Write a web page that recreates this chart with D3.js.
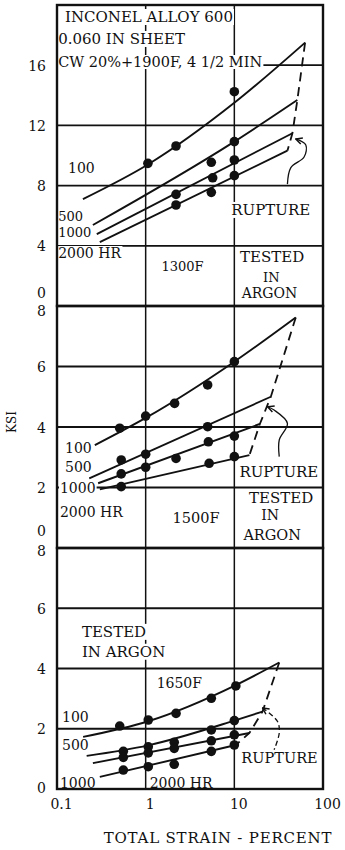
<!DOCTYPE html>
<html lang="en">
<head>
<meta charset="UTF-8" />
<title>INCONEL ALLOY 600</title>
<style>
body{margin:0;background:#fff;}
svg text{font-family:"DejaVu Serif",serif;fill:#111;}
</style>
</head>
<body>
<svg id="chart" width="345" height="850"></svg>
<script src="https://cdn.jsdelivr.net/npm/d3@7/dist/d3.min.js"></script>
<script>
// x = total strain (%), y = stress (ksi); one set of curves per hour level
const hours = ['100', '500', '1000', '2000'];
const xTicks = [0.1, 1, 10, 100];
const xGrid = [1, 10];

// 1300F
const ticks1300 = [0, 4, 8, 12, 16];
const lines1300 = [
  [[0.196, 7.1], [1.06, 9.4], [10, 13.5], [62.8, 17.5]],
  [[0.254, 5.38], [10, 10.92], [51.4, 13.69]],
  [[0.281, 4.78], [45.2, 11.48]],
  [[0.304, 4.25], [39.7, 10.32]]
];
const points1300 = [
  [[1.06, 9.48], [2.2, 10.63], [10, 14.24]],
  [[5.5, 9.55], [10, 10.92]],
  [[2.2, 7.42], [5.7, 8.52], [10, 9.7]],
  [[2.2, 6.71], [5.5, 7.55], [10, 8.66]]
];
const rupture1300 = [[62.8, 17.5], [51.4, 13.69], [45.2, 11.48], [39.7, 10.32]];
const arrow1300 = [[49.3, 11.1], [64, 10.7], [61.2, 9.9], [43.4, 9.2], [39.7, 8.1]];
const text1300 = [
  ['INCONEL ALLOY 600', 0.123, 18.87, 'start', 15],
  ['0.060 IN SHEET', 0.103, 17.41, 'start', 15],
  ['CW 20%+1900F, 4 1/2 MIN', 0.103, 15.88, 'start', 14.5],
  ['100', 0.133, 8.84, 'start', 14],
  ['500', 0.103, 5.65, 'start', 13],
  ['1000', 0.103, 4.6, 'start', 13],
  ['2000 HR', 0.103, 3.19, 'start', 14],
  ['RUPTURE', 9.25, 6.05, 'start', 15],
  ['1300F', 1.51, 2.33, 'start', 13],
  ['TESTED', 26.7, 2.92, 'middle', 15],
  ['IN', 26.1, 1.6, 'middle', 13],
  ['ARGON', 24.9, 0.55, 'middle', 14]
];

// 1500F
const ticks1500 = [0, 2, 4, 6, 8];
const lines1500 = [
  [[0.267, 3.4], [1, 4.3], [10, 6.16], [49.3, 7.62]],
  [[0.231, 2.3], [25.8, 5.0]],
  [[0.291, 2.14], [19.4, 4.1]],
  [[0.304, 1.94], [14.8, 3.07]]
];
const points1500 = [
  [[0.51, 3.96], [1, 4.36], [2.12, 4.78], [5, 5.39], [10, 6.16]],
  [[0.53, 2.91], [1, 3.1], [5, 4.01]],
  [[0.53, 2.45], [1, 2.67], [2.2, 2.96], [5.1, 3.51], [10, 3.7]],
  [[0.53, 2.03], [5.2, 2.8], [10, 3.02]]
];
const rupture1500 = [[49.3, 7.62], [25.8, 5.0], [19.4, 4.1], [14.8, 3.07]];
const arrow1500 = [[23.7, 4.67], [28.1, 4.56], [39.7, 4.12], [32.1, 3.57], [32.1, 3.02]];
const text1500 = [
  ['100', 0.123, 3.14, 'start', 14],
  ['500', 0.123, 2.51, 'start', 14],
  ['1000', 0.108, 1.82, 'start', 14],
  ['2000 HR', 0.108, 1.02, 'start', 14],
  ['1500F', 2.01, 0.83, 'start', 14.5],
  ['RUPTURE', 11.4, 2.35, 'start', 15],
  ['TESTED', 33.7, 1.49, 'middle', 15],
  ['IN', 25.4, 0.93, 'middle', 14],
  ['ARGON', 26.7, 0.26, 'middle', 14.5]
];

// 1650F
const ticks1650 = [0, 2, 4, 6, 8];
const lines1650 = [
  [[0.197, 1.73], [1.07, 2.25], [10.4, 3.45], [32.1, 4.2]],
  [[0.216, 1.1], [1.07, 1.45], [10, 2.27], [20.8, 2.57]],
  [[0.254, 0.86], [14.8, 1.86]],
  [[0.304, 0.4], [10.4, 1.46]]
];
const points1650 = [
  [[0.51, 2.09], [1.07, 2.29], [2.2, 2.51], [5.5, 3.01], [10.4, 3.42]],
  [[0.56, 1.25], [1.07, 1.4], [2.1, 1.55], [5.5, 1.96], [10, 2.27]],
  [[0.56, 1.05], [1.07, 1.2], [2.1, 1.35], [5.5, 1.6], [10, 1.8]],
  [[0.56, 0.63], [1.07, 0.74], [2.1, 0.82], [5.5, 1.25], [10, 1.46]]
];
const rupture1650 = [[32.1, 4.2], [20.8, 2.57], [14.8, 1.86], [10.4, 1.46]];
const arrow1650 = [[20.8, 2.69], [30.7, 2.24], [32.1, 1.86], [28.1, 1.3]];
const text1650 = [
  ['TESTED', 0.191, 5.05, 'start', 15],
  ['IN ARGON', 0.191, 4.39, 'start', 15],
  ['1650F', 1.33, 3.36, 'start', 14],
  ['100', 0.114, 2.23, 'start', 14],
  ['500', 0.114, 1.3, 'start', 14],
  ['1000', 0.108, 0.03, 'start', 14],
  ['2000 HR', 1.11, 0.03, 'start', 14],
  ['RUPTURE', 12, 0.86, 'start', 14.5]
];

const left = 57, right = 323;
const panels = [
  {top: 5, bottom: 306, max: 20, ticks: ticks1300, lines: lines1300, points: points1300, rupture: rupture1300, arrow: arrow1300, texts: text1300, nudge: {0: -14}},
  {top: 306, bottom: 548, max: 8, ticks: ticks1500, lines: lines1500, points: points1500, rupture: rupture1500, arrow: arrow1500, texts: text1500, nudge: {0: -18, 8: 4}},
  {top: 548, bottom: 789, max: 8, ticks: ticks1650, lines: lines1650, points: points1650, rupture: rupture1650, arrow: arrow1650, texts: text1650, nudge: {0: -2, 8: 2}, dashArrow: true}
];

const svg = d3.select('#chart');
const x = d3.scaleLog().domain([0.1, 100]).range([left, right]);
const ink = '#111';

svg.append('defs').append('marker')
  .attr('id', 'head').attr('viewBox', '0 0 10 10')
  .attr('refX', 9).attr('refY', 5)
  .attr('markerWidth', 8).attr('markerHeight', 8)
  .attr('markerUnits', 'userSpaceOnUse')
  .attr('orient', 'auto-start-reverse')
  .append('path').attr('d', 'M1,1 L9,5 L1,9')
  .attr('fill', 'none').attr('stroke', ink).attr('stroke-width', 1.8);

panels.forEach(p => {
  const y = d3.scaleLinear().domain([0, p.max]).range([p.bottom, p.top]);
  const g = svg.append('g');

  // grid
  g.selectAll('.hg').data(p.ticks.filter(t => t > 0 && t < p.max)).join('line')
    .attr('x1', left).attr('x2', right).attr('y1', d => y(d)).attr('y2', d => y(d))
    .attr('stroke', ink).attr('stroke-width', 1.8);
  g.selectAll('.vg').data(xGrid).join('line')
    .attr('x1', d => x(d)).attr('x2', d => x(d)).attr('y1', p.top).attr('y2', p.bottom)
    .attr('stroke', ink).attr('stroke-width', 1.5);

  // labels on white so they break the grid like the print
  p.texts.forEach(d => {
    const t = g.append('text')
      .attr('x', x(d[1])).attr('y', y(d[2]))
      .attr('text-anchor', d[3]).style('font-size', d[4] + 'px')
      .text(d[0]);
    const b = t.node().getBBox();
    g.insert('rect', () => t.node())
      .attr('x', b.x - 1).attr('y', b.y + 1).attr('width', b.width + 2).attr('height', b.height - 2)
      .attr('fill', '#fff');
  });

  // y axis
  const ax = g.append('g').attr('transform', `translate(${left},0)`)
    .call(d3.axisLeft(y).tickValues(p.ticks).tickSize(0).tickPadding(11).tickFormat(d3.format('d')));
  ax.select('.domain').remove();
  ax.attr('font-family', null).attr('font-size', null);
  ax.selectAll('text').style('font-size', '14px')
    .attr('dy', d => (p.nudge[d] ? p.nudge[d] + 5 : 5) + 'px');

  // hour curves
  const line = d3.line().x(d => x(d[0])).y(d => y(d[1])).curve(d3.curveMonotoneX);
  g.selectAll('.curve').data(p.lines).join('path')
    .attr('d', line).attr('fill', 'none').attr('stroke', ink).attr('stroke-width', 1.9);

  // rupture locus
  g.append('path').datum(p.rupture)
    .attr('d', d3.line().x(d => x(d[0])).y(d => y(d[1])))
    .attr('fill', 'none').attr('stroke', ink).attr('stroke-width', 1.8)
    .attr('stroke-dasharray', '9,6');

  // curly pointer
  g.append('path').datum(p.arrow)
    .attr('d', d3.line().x(d => x(d[0])).y(d => y(d[1])).curve(d3.curveCatmullRom))
    .attr('fill', 'none').attr('stroke', ink).attr('stroke-width', 1.3)
    .attr('stroke-dasharray', p.dashArrow ? '5,3' : null)
    .attr('marker-start', 'url(#head)');

  // test points
  g.selectAll('.pts').data(p.points.flat()).join('circle')
    .attr('cx', d => x(d[0])).attr('cy', d => y(d[1])).attr('r', 4.8)
    .attr('fill', ink);

  // frame
  g.append('rect').attr('x', left).attr('y', p.top)
    .attr('width', right - left).attr('height', p.bottom - p.top)
    .attr('fill', 'none').attr('stroke', ink).attr('stroke-width', 2.4);
});

// x axis
const xa = svg.append('g').attr('transform', `translate(0,${panels[2].bottom})`)
  .call(d3.axisBottom(x).tickValues(xTicks).tickSize(0).tickPadding(10).tickFormat(d => String(d)));
xa.select('.domain').remove();
xa.attr('font-family', null).attr('font-size', null);
xa.selectAll('text').style('font-size', '14px').attr('dx', '4px');

svg.append('text')
  .attr('x', 218).attr('y', 843)
  .attr('text-anchor', 'middle').style('font-size', '15px').style('letter-spacing', '0.8px')
  .text('TOTAL STRAIN - PERCENT');

svg.append('text')
  .attr('transform', `translate(16,${(panels[1].top + panels[1].bottom) / 2 - 5}) rotate(-90)`)
  .attr('text-anchor', 'middle').style('font-size', '12px')
  .text('KSI');
</script>
</body>
</html>
